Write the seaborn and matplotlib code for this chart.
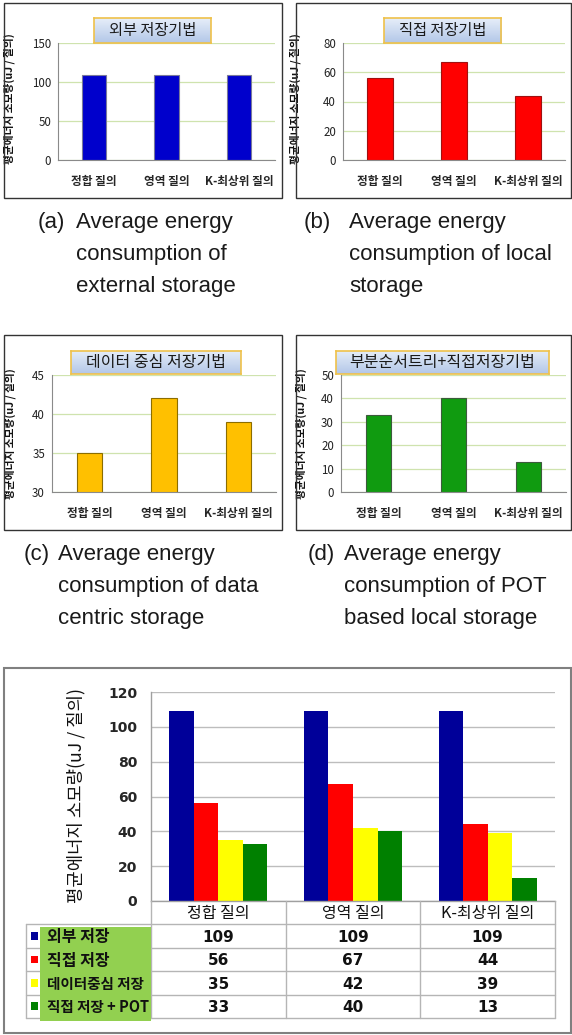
import numpy as np
import pandas as pd
import matplotlib
matplotlib.use("Agg")
import matplotlib.pyplot as plt
from matplotlib.patches import Rectangle
from matplotlib.colors import LinearSegmentedColormap
import seaborn as sns

sns.set_style("white")
plt.rcParams['font.family'] = ['Noto Sans CJK KR', 'DejaVu Sans']

# ---------------- data ----------------
queries = ['정합 질의', '영역 질의', 'K-최상위 질의']
series_names = ['외부 저장', '직접 저장', '데이터중심 저장', '직접 저장 + POT']
external = [109, 109, 109]
local = [56, 67, 44]
data_centric = [35, 42, 39]
pot_local = [33, 40, 13]

panel_titles = ['외부 저장기법', '직접 저장기법', '데이터 중심 저장기법', '부분순서트리+직접저장기법']
ylabel_text = '평균에너지 소모량(uJ / 질의)'
captions = [
    ['(a)', 'Average energy', 'consumption of', 'external storage'],
    ['(b)', 'Average energy', 'consumption of local', 'storage'],
    ['(c)', 'Average energy', 'consumption of data', 'centric storage'],
    ['(d)', 'Average energy', 'consumption of POT', 'based local storage'],
]
big_colors = ['#000099', '#FF0000', '#FFFF00', '#008000']
row_label_sizes = [11.5, 11.5, 10.5, 10.5]

# ---------------- layout helpers ----------------
W, H = 572, 1035
fig = plt.figure(figsize=(W / 100, H / 100), dpi=100)


def rect(l, t, r, b):
    return [l / W, 1 - b / H, (r - l) / W, (b - t) / H]


def frame(l, t, r, b, color='#333333', lw=1.0):
    fig.add_artist(Rectangle((l / W, 1 - b / H), (r - l) / W, (b - t) / H,
                             transform=fig.transFigure, fill=False, ec=color, lw=lw))


grad_cmap = LinearSegmentedColormap.from_list('tb', ['#E6EEF9', '#B3C7E8'])


def title_box(l, t, r, b, text, fs):
    tax = fig.add_axes(rect(l, t, r, b))
    tax.imshow(np.linspace(0, 1, 40).reshape(-1, 1), aspect='auto', cmap=grad_cmap,
               extent=[0, 1, 0, 1])
    tax.set_xticks([])
    tax.set_yticks([])
    for s in tax.spines.values():
        s.set_color('#EFC14A')
        s.set_linewidth(1.2)
    tax.text(0.5, 0.48, text, ha='center', va='center', fontsize=fs, color='#1A1A1A',
             transform=tax.transAxes)


def small_chart(box, values, color, edge, ylim, step, lab_xy):
    ax = fig.add_axes(rect(*box))
    sns.barplot(x=queries, y=values, color=color, saturation=1, width=0.34,
                edgecolor=edge, linewidth=0.8, ax=ax)
    ax.set_xlim(-0.5, 2.5)
    ax.set_ylim(*ylim)
    ax.set_yticks(np.arange(ylim[0], ylim[1] + step / 2, step))
    ax.yaxis.grid(True, color='#CFE3AE', lw=0.9)
    ax.set_axisbelow(True)
    for s in ['top', 'right']:
        ax.spines[s].set_visible(False)
    for s in ['left', 'bottom']:
        ax.spines[s].set_color('#8A8A8A')
        ax.spines[s].set_linewidth(0.8)
    ax.tick_params(axis='y', length=3, color='#8A8A8A', labelsize=8.3, pad=2, labelcolor='#222')
    ax.set_xticks([-0.5, 0.5, 1.5, 2.5], minor=True)
    ax.tick_params(axis='x', which='major', length=0, labelsize=8.4, pad=11)
    ax.tick_params(axis='x', which='minor', length=4, color='#8A8A8A', width=0.8)
    for tl in ax.get_xticklabels():
        tl.set_fontweight('bold')
    ax.set_xlabel('')
    ax.set_ylabel(ylabel_text, fontsize=7.7, fontweight='bold', color='#111')
    ax.yaxis.set_label_coords(*lab_xy)
    return ax


# ---------------- panel frames ----------------
frame(4, 3, 282, 198)
frame(296, 3, 571, 198)
frame(4, 335, 282, 530)
frame(296, 335, 571, 530)
frame(4, 668, 571, 1033, color='#808080', lw=1.5)

# ---------------- small charts ----------------
small_chart((58, 43, 275, 160), external, '#0000CC', '#7A7A9A', (0, 150), 50, (-0.198, 0.526))
small_chart((343, 43, 565, 160), local, '#FF0000', '#A01010', (0, 80), 20, (-0.189, 0.526))
small_chart((52, 375, 276, 492), data_centric, '#FFC000', '#8C6D00', (30, 45), 5, (-0.16, 0.496))
small_chart((341, 375, 566, 492), pot_local, '#109B10', '#3D5A3D', (0, 50), 10, (-0.152, 0.496))

title_box(94, 18, 211, 43, panel_titles[0], 11)
title_box(384, 18, 501, 43, panel_titles[1], 11)
title_box(71, 351, 241, 374, panel_titles[2], 11.5)
title_box(336, 351, 549, 374, panel_titles[3], 11.5)

# ---------------- captions ----------------
cap_pos = [(38, 76, 228), (304, 349, 228), (24, 58, 560), (308, 344, 560)]
for cap, (xl, xt, yb) in zip(captions, cap_pos):
    fig.text(xl / W, 1 - yb / H, cap[0], fontsize=16, family='Liberation Sans',
             color='#1A1A1A', va='baseline')
    for k, line in enumerate(cap[1:]):
        fig.text(xt / W, 1 - (yb + 32 * k) / H, line, fontsize=16, family='Liberation Sans',
                 color='#1A1A1A', va='baseline')

# ---------------- bottom grouped chart ----------------
rows = []
for name, vals in zip(series_names, [external, local, data_centric, pot_local]):
    for q, v in zip(queries, vals):
        rows.append({'query': q, 'series': name, 'value': v})
df = pd.DataFrame(rows)

bx = fig.add_axes(rect(151, 692, 555, 901))
sns.barplot(data=df, x='query', y='value', hue='series', order=queries,
            hue_order=series_names, palette=big_colors, saturation=1, width=0.73,
            linewidth=0, ax=bx, legend=False)
bx.set_xlim(-0.5, 2.5)
bx.set_ylim(0, 120)
bx.set_yticks(np.arange(0, 121, 20))
bx.yaxis.grid(True, color='#BDBDBD', lw=1.0)
bx.set_axisbelow(True)
for s in ['top', 'right']:
    bx.spines[s].set_visible(False)
for s in ['left', 'bottom']:
    bx.spines[s].set_color('#A0A0A0')
    bx.spines[s].set_linewidth(1.0)
bx.tick_params(axis='x', length=0, labelbottom=False)
bx.tick_params(axis='y', length=0, pad=10)
for tl in bx.get_yticklabels():
    tl.set_fontfamily('DejaVu Sans')
    tl.set_fontweight('bold')
    tl.set_fontsize(10)
bx.set_xlabel('')
bx.set_ylabel(ylabel_text, fontsize=12.8, color='#111')
bx.yaxis.set_label_coords(-0.163, 0.507)

# ---------------- data table ----------------
cat_px = (555 - 151) / 3.0
label_w = (151 - 26) / cat_px
tx = fig.add_axes(rect(26, 901, 555, 1018))
tx.set_xlim(-0.5 - label_w, 2.5)
tx.set_ylim(4.5, -0.5)
tx.axis('off')
grid_c = '#B5B5B5'
for yv in [0.5, 1.5, 2.5, 3.5, 4.5]:
    tx.plot([-0.5 - label_w, 2.5], [yv, yv], color=grid_c, lw=1.0, clip_on=False, zorder=1)
for xv in [-0.5, 0.5, 1.5, 2.5]:
    tx.plot([xv, xv], [-0.5, 4.5], color=grid_c, lw=1.0, clip_on=False, zorder=1)
tx.plot([-0.5 - label_w] * 2, [0.5, 4.5], color=grid_c, lw=1.0, clip_on=False, zorder=1)

green_w = (151 - 40) / cat_px
tx.add_patch(Rectangle((-0.5 - green_w, 0.62), green_w, 4.0, facecolor='#92D050',
                       edgecolor='none', zorder=2, clip_on=False))
sq_x = -0.5 - (151 - 34.5) / cat_px
tx.scatter([sq_x] * len(series_names), np.arange(1, len(series_names) + 1), marker='s',
           s=30, c=big_colors, zorder=3, clip_on=False, linewidths=0)
lab_x = -0.5 - (151 - 47) / cat_px
for i, name in enumerate(series_names):
    tx.text(lab_x, i + 1.05, name, ha='left', va='center', fontsize=row_label_sizes[i],
            fontweight='bold', color='#111', zorder=4)
for j, q in enumerate(queries):
    tx.text(j, 0.02, q, ha='center', va='center', fontsize=11.5, color='#111', zorder=4)
for i, vals in enumerate([external, local, data_centric, pot_local]):
    for j, v in enumerate(vals):
        tx.text(j, i + 1.05, str(v), ha='center', va='center', fontsize=11,
                fontweight='bold', family='DejaVu Sans', color='#111', zorder=4)

fig.savefig('out.png', dpi=100)
